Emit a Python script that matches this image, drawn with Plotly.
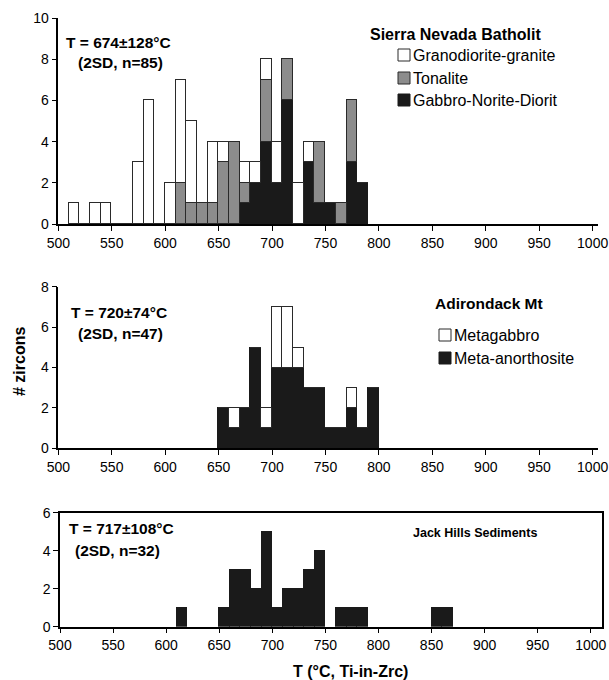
import plotly.graph_objects as go

# ---------------- data ----------------
BIN = 10
sierra_edges = list(range(510, 790, 10))  # 510..780
granodiorite = [1, 0, 1, 1, 0, 0, 3, 6, 0, 2, 5, 4, 0, 3, 1, 0, 1, 1, 1, 2, 0, 2, 1, 0, 0, 0, 0, 0]
tonalite     = [0, 0, 0, 0, 0, 0, 0, 0, 0, 0, 2, 1, 1, 1, 3, 4, 1, 0, 3, 0, 2, 0, 0, 3, 0, 1, 3, 0]
gabbro       = [0, 0, 0, 0, 0, 0, 0, 0, 0, 0, 0, 0, 0, 0, 0, 0, 1, 2, 4, 2, 6, 0, 3, 1, 1, 0, 3, 2]

adk_edges = list(range(650, 800, 10))  # 650..790
metagabbro   = [0, 1, 0, 0, 1, 3, 3, 1, 0, 0, 0, 0, 1, 0, 0]
anorthosite  = [2, 1, 2, 5, 1, 4, 4, 4, 3, 3, 1, 1, 2, 1, 3]

jh_edges = [610, 650, 660, 670, 680, 690, 700, 710, 720, 730, 740, 760, 770, 780, 850, 860]
jack_hills = [1, 1, 3, 3, 2, 5, 1, 2, 2, 3, 4, 1, 1, 1, 1, 1]

x_ticks = list(range(500, 1001, 50))

# ---------------- style ----------------
FONT = "Liberation Sans, Arial, sans-serif"
BLACK = "#1a1a1a"
GRAY = "#8c8c8c"
WHITE = "#ffffff"
EDGE = "#2a2a2a"
W, H = 609, 680


def px(x):
    return min(1.0, max(0.0, x / W))


def py(y):
    return min(1.0, max(0.0, 1 - y / H))


def centers(edges):
    return [e + BIN / 2 for e in edges]


fig = go.Figure()


def add_bar(edges, vals, color, name, axis_n, line_color=EDGE):
    fig.add_trace(go.Bar(
        x=centers(edges), y=vals, width=BIN, name=name,
        marker=dict(color=color, line=dict(color=line_color, width=1)),
        xaxis="x" if axis_n == 1 else f"x{axis_n}",
        yaxis="y" if axis_n == 1 else f"y{axis_n}",
        showlegend=False,
    ))


add_bar(sierra_edges, gabbro, BLACK, "Gabbro-Norite-Diorit", 1, BLACK)
add_bar(sierra_edges, tonalite, GRAY, "Tonalite", 1)
add_bar(sierra_edges, granodiorite, WHITE, "Granodiorite-granite", 1)

add_bar(adk_edges, anorthosite, BLACK, "Meta-anorthosite", 2, BLACK)
add_bar(adk_edges, metagabbro, WHITE, "Metagabbro", 2)

add_bar(jh_edges, jack_hills, BLACK, "Jack Hills", 3, BLACK)

axis_common = dict(
    showline=True, linecolor="black", linewidth=1.5,
    ticks="outside", ticklen=5, tickwidth=1.2, tickcolor="black",
    showgrid=False, zeroline=False, automargin=False,
    ticklabeloverflow="allow",
    tickfont=dict(family=FONT, size=14, color="black"),
)

xdom_top = [px(58.3), px(598)]
xdom_bot = [px(60), px(602)]

fig.update_layout(
    template="none",
    width=W, height=H,
    margin=dict(l=0, r=0, t=0, b=0),
    paper_bgcolor="white", plot_bgcolor="white",
    barmode="stack", bargap=0,
    showlegend=False,
    font=dict(family=FONT, color="black"),
    xaxis=dict(domain=xdom_top, range=[500, 1005], tickvals=x_ticks, anchor="y", **axis_common),
    yaxis=dict(domain=[py(224), py(18)], range=[0, 10], dtick=2, anchor="x", **axis_common),
    xaxis2=dict(domain=xdom_top, range=[500, 1005], tickvals=x_ticks, anchor="y2", **axis_common),
    yaxis2=dict(domain=[py(448.3), py(286.7)], range=[0, 8], dtick=2, anchor="x2", **axis_common),
    xaxis3=dict(domain=xdom_bot, range=[500, 1010.6], tickvals=x_ticks, anchor="y3", mirror=True, **axis_common),
    yaxis3=dict(domain=[py(626.7), py(512.7)], range=[0, 6], dtick=2, anchor="x3", mirror=True, **axis_common),
)

ann = []


def text(x, y, s, size=13, bold=False, xanchor="left", **kw):
    ann.append(dict(
        x=px(x), y=py(y), xref="paper", yref="paper", showarrow=False,
        text=f"<b>{s}</b>" if bold else s, xanchor=xanchor, yanchor="middle",
        font=dict(family=FONT, size=size, color="black"), **kw,
    ))


# stats text
text(64, 42, "T = 674±128°C", 15.5, True)
text(76, 62, "(2SD, n=85)", 15.5, True)
text(69, 313, "T = 720±74°C", 15.5, True)
text(76, 333, "(2SD, n=47)", 15.5, True)
text(67, 528, "T = 717±108°C", 15.5, True)
text(73, 550, "(2SD, n=32)", 15.5, True)

# legend titles
text(368, 34, "Sierra Nevada Batholit", 16, True)
text(433, 303, "Adirondack Mt", 15.5, True)
text(411, 533, "Jack Hills Sediments", 12.5, True)

shapes = []


def legend_item(x, y, color, label):
    shapes.append(dict(type="rect", xref="paper", yref="paper",
                       x0=px(x), x1=px(x + 12), y0=py(y + 6), y1=py(y - 6),
                       fillcolor=color, line=dict(color=EDGE if color != BLACK else BLACK, width=1)))
    text(x + 13, y, label, 16)


legend_item(398, 55, WHITE, "Granodiorite-granite")
legend_item(398, 78, GRAY, "Tonalite")
legend_item(398, 100, BLACK, "Gabbro-Norite-Diorit")
legend_item(439, 335, WHITE, "Metagabbro")
legend_item(439, 358, BLACK, "Meta-anorthosite")

# axis titles
text(350, 671, "T (°C, Ti-in-Zrc)", 16, True, xanchor="center")
ann.append(dict(x=px(19), y=py(362), xref="paper", yref="paper", showarrow=False,
                text="<b># zircons</b>", textangle=-90, xanchor="center", yanchor="middle",
                font=dict(family=FONT, size=16, color="black")))

fig.update_layout(annotations=ann, shapes=shapes)

# the page's default 8px body margin would push the figure off the window
fig.write_html("out.html", config={"displayModeBar": False},
               post_script="document.body.style.margin='0px';")
